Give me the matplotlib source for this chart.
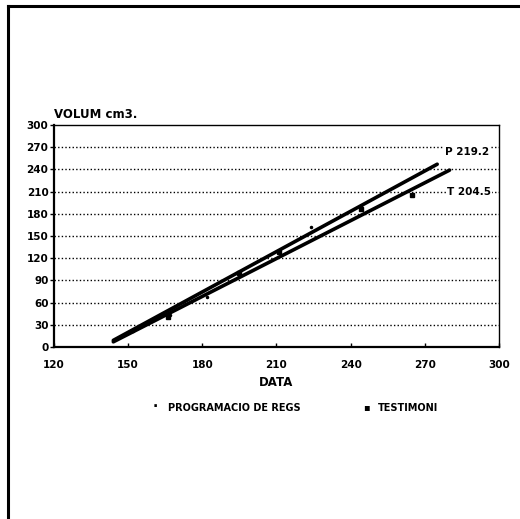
import matplotlib
matplotlib.use('Agg')
import matplotlib.pyplot as plt
import numpy as np

# fitted lines (data, volume)
p_line_x = [144, 275]
p_line_y = [9, 247]
t_line_x = [144, 280]
t_line_y = [7, 239]

# measured points
p_pts_x = [152, 167, 182, 224, 244]
p_pts_y = [22, 43, 68, 162, 190]
t_pts_x = [166, 195, 211, 244, 265]
t_pts_y = [40, 100, 128, 186, 205]

xticks = [120, 150, 180, 210, 240, 270, 300]
yticks = [0, 30, 60, 90, 120, 150, 180, 210, 240, 270, 300]

plt.rcParams['font.family'] = ['DejaVu Sans']
plt.rcParams['font.weight'] = 'bold'

fig = plt.figure(figsize=(5.2, 5.19), dpi=100)
W, H = 520, 519

# outer frame (only top/left visible in the scan)
fig.add_artist(plt.Line2D([8/W, 8/W], [0, 1-6/H], color='k', lw=2.2, transform=fig.transFigure))
fig.add_artist(plt.Line2D([8/W, 1], [1-6/H, 1-6/H], color='k', lw=2.2, transform=fig.transFigure))

ax = fig.add_axes([54/W, 1-347/H, (499-54)/W, (347-125)/H])
ax.plot(p_line_x, p_line_y, color='k', lw=2.6, solid_capstyle='round', zorder=3)
ax.plot(t_line_x, t_line_y, color='k', lw=2.6, solid_capstyle='round', zorder=3)
ax.plot(p_pts_x, p_pts_y, 'k.', ms=3, zorder=3)
ax.plot(t_pts_x, t_pts_y, 'ks', ms=2.5, zorder=3)

ax.set_xlim(120, 300)
ax.set_ylim(0, 300)
ax.set_xticks(xticks)
ax.set_yticks(yticks)
ax.tick_params(axis='x', labelsize=7.5, length=3, width=1, direction='in', pad=9)
ax.tick_params(axis='y', labelsize=7.5, length=3, width=1, direction='out', pad=1)
for lbl in ax.get_xticklabels() + ax.get_yticklabels():
    lbl.set_fontweight('bold')
for y in yticks[1:-1]:
    ax.axhline(y, color='k', lw=1, ls=(0, (1, 1.6)), zorder=1)
for side, s in ax.spines.items():
    s.set_linewidth(1.6 if side in ('left', 'bottom') else 1.0)

ax.set_xlabel('DATA', fontsize=8.5, fontweight='bold', labelpad=5)
ax.text(0.0, 1.02, 'VOLUM cm3.', transform=ax.transAxes, fontsize=8.5, fontweight='bold', va='bottom')
ax.text(278, 263, 'P 219.2', fontsize=7.5, fontweight='bold', va='center', zorder=4,
        bbox=dict(fc='white', ec='none', pad=1))
ax.text(279, 209, 'T 204.5', fontsize=7.5, fontweight='bold', va='center', zorder=4,
        bbox=dict(fc='white', ec='none', pad=1))

# legend
fig.text(155/W, 1-407/H, '·', fontsize=10, fontweight='bold', ha='center', va='center')
fig.text(168/W, 1-408/H, 'PROGRAMACIO DE REGS', fontsize=7, fontweight='bold', va='center')
fig.text(366/W, 1-407/H, '▪', fontsize=7, ha='center', va='center')
fig.text(378/W, 1-408/H, 'TESTIMONI', fontsize=7, fontweight='bold', va='center')

fig.savefig('out.png', dpi=100)
